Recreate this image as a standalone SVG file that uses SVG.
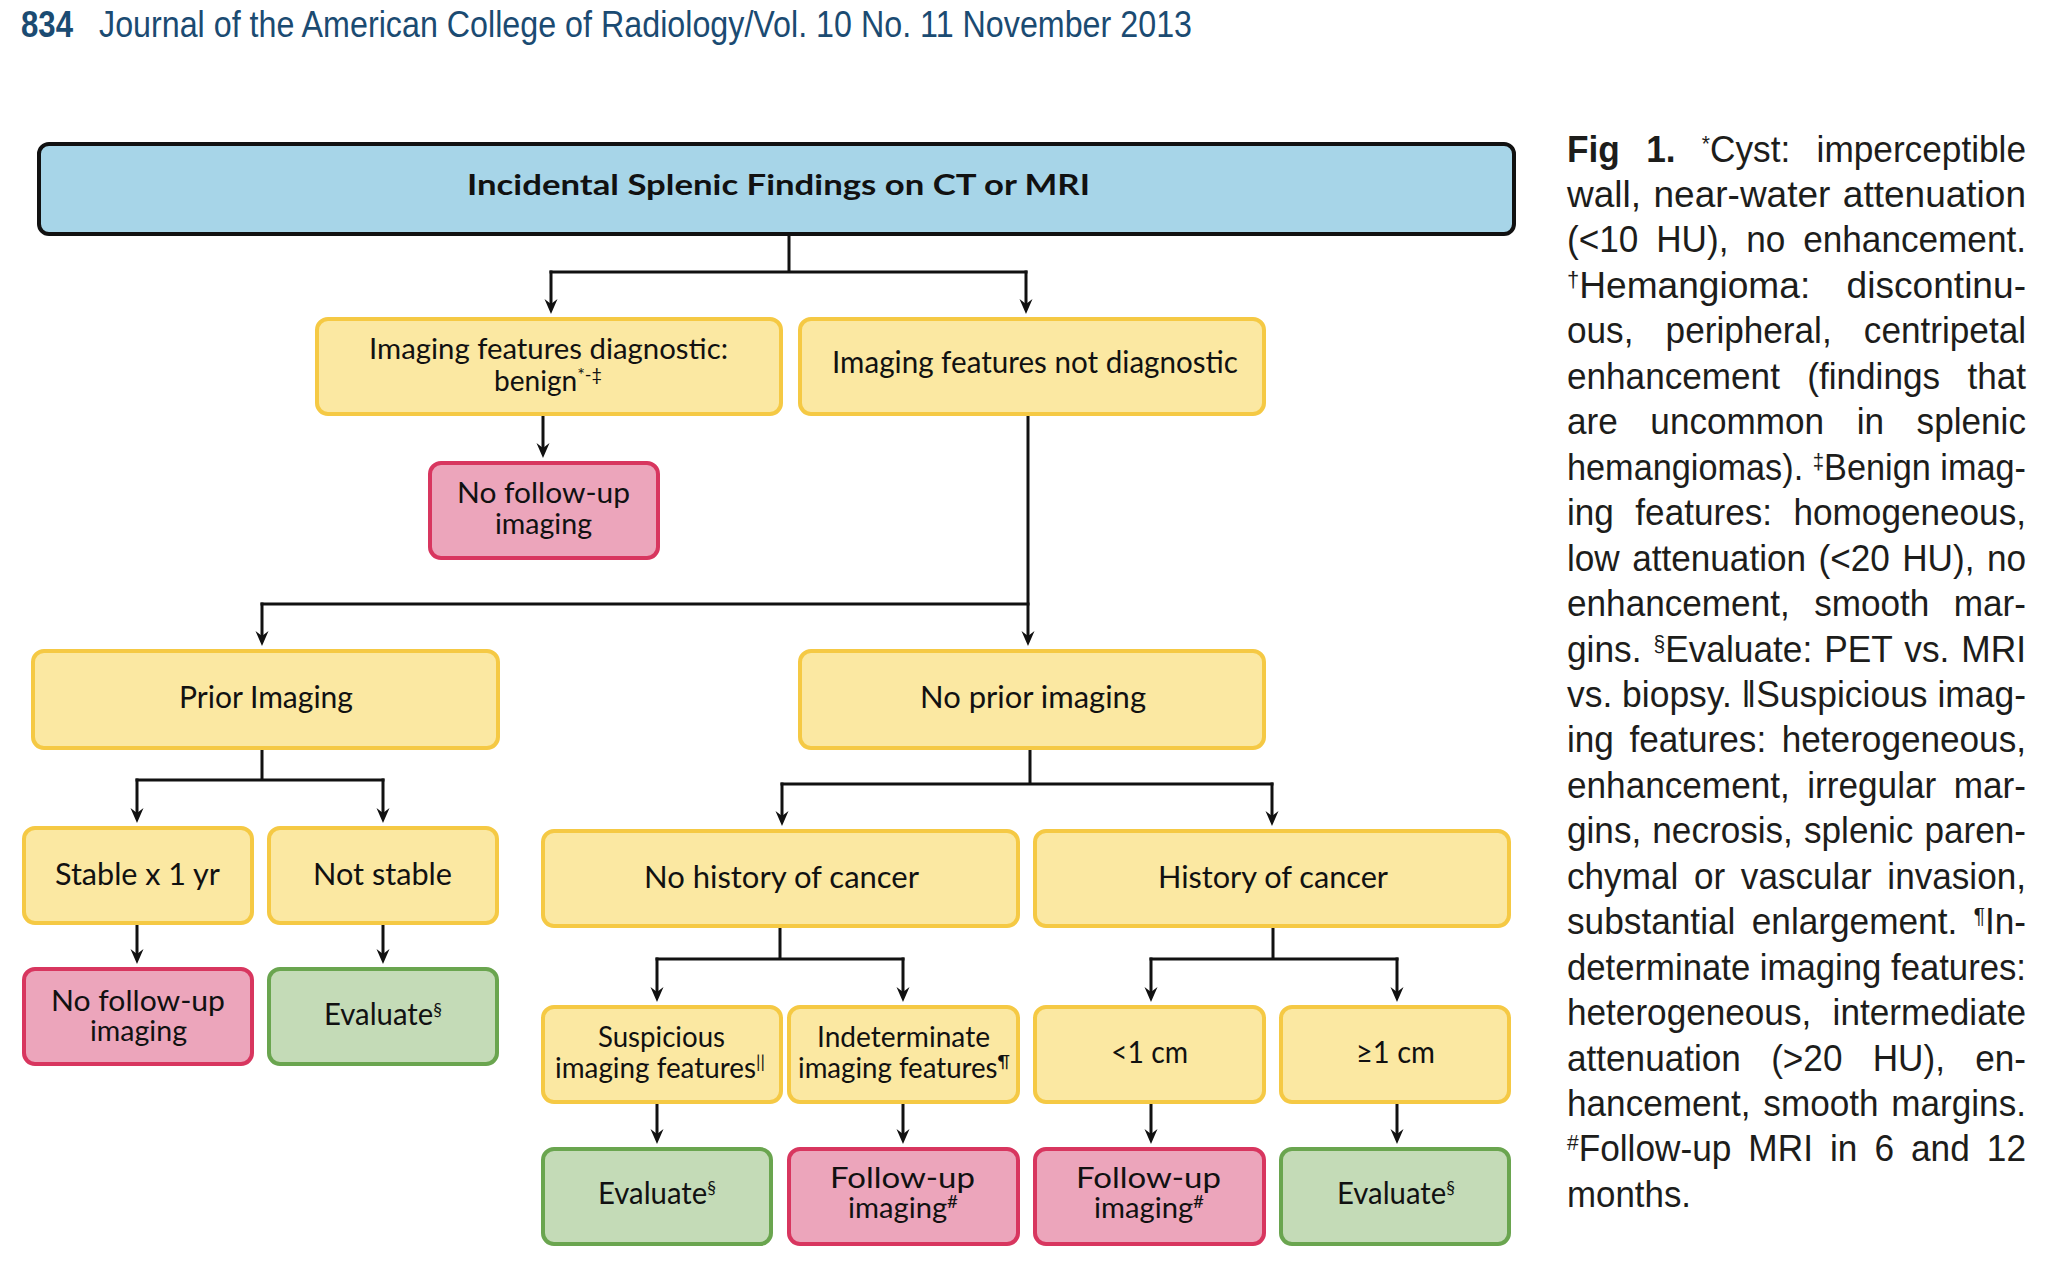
<svg xmlns="http://www.w3.org/2000/svg" width="2060" height="1268" viewBox="0 0 2060 1268">
<defs>
<style>
.by{fill:#fbe8a2;stroke:#f5c944;stroke-width:4}
.bp{fill:#eca5bb;stroke:#d8365f;stroke-width:4}
.bg{fill:#c4dbb7;stroke:#6aa54f;stroke-width:4}
.bb{fill:#a7d5e8;stroke:#111;stroke-width:4}
.lbl{font-family:Lato,"Open Sans",sans-serif;font-size:30px;fill:#111}
.l2{font-size:28px}
.s{font-size:18px}
.ttl{font-family:Lato,"Open Sans",sans-serif;font-size:28px;font-weight:bold;fill:#111}
.cap{font-family:"Liberation Sans",Arial,sans-serif;font-size:37px;fill:#1d1d1b}
.cs{font-size:22px}
.hdr{font-family:"Liberation Sans Narrow","Liberation Sans",Arial,sans-serif;font-size:36px;fill:#1b4b72}
.conn{stroke:#111;stroke-width:3;fill:none;stroke-linecap:square}
.arr{marker-end:url(#arrow)}
</style>
<marker id="arrow" markerUnits="userSpaceOnUse" viewBox="-8 -8 17 16" markerWidth="17" markerHeight="16" refX="0" refY="0" orient="auto">
<path d="M8,0 L-7,-6.5 L-2,0 L-7,6.5 Z" fill="#111"/>
</marker>
</defs>
<rect width="2060" height="1268" fill="#ffffff"/>

<g id="header">
<text class="hdr" x="21" y="37" font-weight="bold" textLength="52" lengthAdjust="spacingAndGlyphs">834</text>
<text class="hdr" x="99" y="37" textLength="1093" lengthAdjust="spacingAndGlyphs">Journal of the American College of Radiology/Vol. 10 No. 11 November 2013</text>
</g>

<g id="connectors">
<path class="conn" d="M789,236 V272 M551,272 H1026"/>
<path class="conn arr" d="M551,272 V306"/>
<path class="conn arr" d="M1026,272 V306"/>
<path class="conn arr" d="M543,416 V450"/>
<path class="conn arr" d="M1028,416 V638"/>
<path class="conn" d="M262,604 H1028"/>
<path class="conn arr" d="M262,604 V638"/>
<path class="conn" d="M262,750 V780 M137,780 H383"/>
<path class="conn arr" d="M137,780 V815"/>
<path class="conn arr" d="M383,780 V815"/>
<path class="conn arr" d="M137,926 V956"/>
<path class="conn arr" d="M383,926 V956"/>
<path class="conn" d="M1030,750 V784 M782,784 H1272"/>
<path class="conn arr" d="M782,784 V818"/>
<path class="conn arr" d="M1272,784 V818"/>
<path class="conn" d="M780,929 V959 M657,959 H903"/>
<path class="conn arr" d="M657,959 V994"/>
<path class="conn arr" d="M903,959 V994"/>
<path class="conn" d="M1273,929 V959 M1151,959 H1397"/>
<path class="conn arr" d="M1151,959 V994"/>
<path class="conn arr" d="M1397,959 V994"/>
<path class="conn arr" d="M657,1105 V1136"/>
<path class="conn arr" d="M903,1105 V1136"/>
<path class="conn arr" d="M1151,1105 V1136"/>
<path class="conn arr" d="M1397,1105 V1136"/>
</g>

<g id="n-title">
<rect class="bb" x="39" y="144" width="1475" height="90" rx="10"/>
<text class="ttl" x="467" y="195" textLength="623" lengthAdjust="spacingAndGlyphs">Incidental Splenic Findings on CT or MRI</text>
</g>
<g id="n-diagnostic">
<rect class="by" x="317" y="319" width="464" height="95" rx="11"/>
<text class="lbl l2"><tspan x="369" y="359" textLength="359" lengthAdjust="spacingAndGlyphs">Imaging features diagnostic:</tspan><tspan x="494" y="391" textLength="108" lengthAdjust="spacingAndGlyphs">benign<tspan class="s" dy="-10">*-‡</tspan></tspan></text>
</g>
<g id="n-notdiagnostic">
<rect class="by" x="800" y="319" width="464" height="95" rx="11"/>
<text class="lbl" x="832" y="373" textLength="406" lengthAdjust="spacingAndGlyphs">Imaging features not diagnostic</text>
</g>
<g id="n-nofollow1">
<rect class="bp" x="430" y="463" width="228" height="95" rx="11"/>
<text class="lbl l2"><tspan x="457" y="503" textLength="173" lengthAdjust="spacingAndGlyphs">No follow-up</tspan><tspan x="495" y="534" textLength="97" lengthAdjust="spacingAndGlyphs">imaging</tspan></text>
</g>
<g id="n-prior">
<rect class="by" x="33" y="651" width="465" height="97" rx="11"/>
<text class="lbl" x="179" y="708" textLength="174" lengthAdjust="spacingAndGlyphs">Prior Imaging</text>
</g>
<g id="n-noprior">
<rect class="by" x="800" y="651" width="464" height="97" rx="11"/>
<text class="lbl" x="920" y="708" textLength="226" lengthAdjust="spacingAndGlyphs">No prior imaging</text>
</g>
<g id="n-stable">
<rect class="by" x="24" y="828" width="228" height="95" rx="11"/>
<text class="lbl" x="55" y="885" textLength="165" lengthAdjust="spacingAndGlyphs">Stable x 1 yr</text>
</g>
<g id="n-notstable">
<rect class="by" x="269" y="828" width="228" height="95" rx="11"/>
<text class="lbl" x="313" y="885" textLength="139" lengthAdjust="spacingAndGlyphs">Not stable</text>
</g>
<g id="n-nofollow2">
<rect class="bp" x="24" y="969" width="228" height="95" rx="11"/>
<text class="lbl l2"><tspan x="51" y="1011" textLength="174" lengthAdjust="spacingAndGlyphs">No follow-up</tspan><tspan x="90" y="1041" textLength="97" lengthAdjust="spacingAndGlyphs">imaging</tspan></text>
</g>
<g id="n-evaluate1">
<rect class="bg" x="269" y="969" width="228" height="95" rx="11"/>
<text class="lbl" x="324" y="1025" textLength="118" lengthAdjust="spacingAndGlyphs">Evaluate<tspan class="s" dy="-9">§</tspan></text>
</g>
<g id="n-nohistory">
<rect class="by" x="543" y="831" width="475" height="95" rx="11"/>
<text class="lbl" x="644" y="888" textLength="275" lengthAdjust="spacingAndGlyphs">No history of cancer</text>
</g>
<g id="n-history">
<rect class="by" x="1035" y="831" width="474" height="95" rx="11"/>
<text class="lbl" x="1158" y="888" textLength="230" lengthAdjust="spacingAndGlyphs">History of cancer</text>
</g>
<g id="n-suspicious">
<rect class="by" x="543" y="1007" width="238" height="95" rx="11"/>
<text class="lbl l2"><tspan x="598" y="1047" textLength="127" lengthAdjust="spacingAndGlyphs">Suspicious</tspan><tspan x="555" y="1078" textLength="210" lengthAdjust="spacingAndGlyphs">imaging features<tspan class="s" dy="-10">||</tspan></tspan></text>
</g>
<g id="n-indeterminate">
<rect class="by" x="789" y="1007" width="229" height="95" rx="11"/>
<text class="lbl l2"><tspan x="817" y="1047" textLength="173" lengthAdjust="spacingAndGlyphs">Indeterminate</tspan><tspan x="798" y="1078" textLength="212" lengthAdjust="spacingAndGlyphs">imaging features<tspan class="s" dy="-10">¶</tspan></tspan></text>
</g>
<g id="n-lt1cm">
<rect class="by" x="1035" y="1007" width="229" height="95" rx="11"/>
<text class="lbl" x="1111" y="1063" textLength="77" lengthAdjust="spacingAndGlyphs">&lt;1 cm</text>
</g>
<g id="n-ge1cm">
<rect class="by" x="1281" y="1007" width="228" height="95" rx="11"/>
<text class="lbl" x="1356" y="1063" textLength="79" lengthAdjust="spacingAndGlyphs">≥1 cm</text>
</g>
<g id="n-evaluate2">
<rect class="bg" x="543" y="1149" width="228" height="95" rx="11"/>
<text class="lbl" x="598" y="1204" textLength="118" lengthAdjust="spacingAndGlyphs">Evaluate<tspan class="s" dy="-10">§</tspan></text>
</g>
<g id="n-followup1">
<rect class="bp" x="789" y="1149" width="229" height="95" rx="11"/>
<text class="lbl l2"><tspan x="830" y="1188" textLength="145" lengthAdjust="spacingAndGlyphs">Follow-up</tspan><tspan x="848" y="1218" textLength="110" lengthAdjust="spacingAndGlyphs">imaging<tspan class="s" dy="-10">#</tspan></tspan></text>
</g>
<g id="n-followup2">
<rect class="bp" x="1035" y="1149" width="229" height="95" rx="11"/>
<text class="lbl l2"><tspan x="1076" y="1188" textLength="145" lengthAdjust="spacingAndGlyphs">Follow-up</tspan><tspan x="1094" y="1218" textLength="110" lengthAdjust="spacingAndGlyphs">imaging<tspan class="s" dy="-10">#</tspan></tspan></text>
</g>
<g id="n-evaluate3">
<rect class="bg" x="1281" y="1149" width="228" height="95" rx="11"/>
<text class="lbl" x="1337" y="1204" textLength="118" lengthAdjust="spacingAndGlyphs">Evaluate<tspan class="s" dy="-10">§</tspan></text>
</g>

<g id="caption">
<text class="cap" x="1567" y="161.5" textLength="459" lengthAdjust="spacingAndGlyphs" word-spacing="17.4"><tspan font-weight="bold">Fig 1.</tspan> <tspan class="cs" dy="-11">*</tspan><tspan dy="11">Cyst: imperceptible</tspan></text>
<text class="cap" x="1567" y="207" textLength="459" lengthAdjust="spacingAndGlyphs" word-spacing="2.2">wall, near-water attenuation</text>
<text class="cap" x="1567" y="252.4" textLength="459" lengthAdjust="spacingAndGlyphs" word-spacing="8.5">(&lt;10 HU), no enhancement.</text>
<text class="cap" x="1567" y="297.9" textLength="459" lengthAdjust="spacingAndGlyphs" word-spacing="26"><tspan class="cs" dy="-11">†</tspan><tspan dy="11">Hemangioma: discontinu-</tspan></text>
<text class="cap" x="1567" y="343.3" textLength="459" lengthAdjust="spacingAndGlyphs" word-spacing="23.6">ous, peripheral, centripetal</text>
<text class="cap" x="1567" y="388.8" textLength="459" lengthAdjust="spacingAndGlyphs" word-spacing="18.5">enhancement (findings that</text>
<text class="cap" x="1567" y="434.2" textLength="459" lengthAdjust="spacingAndGlyphs" word-spacing="24">are uncommon in splenic</text>
<text class="cap" x="1567" y="479.7" textLength="459" lengthAdjust="spacingAndGlyphs">hemangiomas). <tspan class="cs" dy="-11">‡</tspan><tspan dy="11">Benign imag-</tspan></text>
<text class="cap" x="1567" y="525.1" textLength="459" lengthAdjust="spacingAndGlyphs" word-spacing="12.3">ing features: homogeneous,</text>
<text class="cap" x="1567" y="570.6" textLength="459" lengthAdjust="spacingAndGlyphs" word-spacing="2.8">low attenuation (&lt;20 HU), no</text>
<text class="cap" x="1567" y="616" textLength="459" lengthAdjust="spacingAndGlyphs" word-spacing="15.4">enhancement, smooth mar-</text>
<text class="cap" x="1567" y="661.5" textLength="459" lengthAdjust="spacingAndGlyphs" word-spacing="2.3">gins. <tspan class="cs" dy="-11">§</tspan><tspan dy="11">Evaluate: PET vs. MRI</tspan></text>
<text class="cap" x="1567" y="706.9" textLength="459" lengthAdjust="spacingAndGlyphs">vs. biopsy. ‖Suspicious imag-</text>
<text class="cap" x="1567" y="752.4" textLength="459" lengthAdjust="spacingAndGlyphs" word-spacing="6.1">ing features: heterogeneous,</text>
<text class="cap" x="1567" y="797.8" textLength="459" lengthAdjust="spacingAndGlyphs" word-spacing="8.2">enhancement, irregular mar-</text>
<text class="cap" x="1567" y="843.3" textLength="459" lengthAdjust="spacingAndGlyphs" word-spacing="1.4">gins, necrosis, splenic paren-</text>
<text class="cap" x="1567" y="888.7" textLength="459" lengthAdjust="spacingAndGlyphs" word-spacing="6.2">chymal or vascular invasion,</text>
<text class="cap" x="1567" y="934.2" textLength="459" lengthAdjust="spacingAndGlyphs" word-spacing="6.9">substantial enlargement. <tspan class="cs" dy="-11">¶</tspan><tspan dy="11">In-</tspan></text>
<text class="cap" x="1567" y="979.6" textLength="459" lengthAdjust="spacingAndGlyphs">determinate imaging features:</text>
<text class="cap" x="1567" y="1025.1" textLength="459" lengthAdjust="spacingAndGlyphs" word-spacing="12.2">heterogeneous, intermediate</text>
<text class="cap" x="1567" y="1070.5" textLength="459" lengthAdjust="spacingAndGlyphs" word-spacing="21.6">attenuation (&gt;20 HU), en-</text>
<text class="cap" x="1567" y="1116" textLength="459" lengthAdjust="spacingAndGlyphs" word-spacing="3.1">hancement, smooth margins.</text>
<text class="cap" x="1567" y="1161.4" textLength="459" lengthAdjust="spacingAndGlyphs" word-spacing="7.6"><tspan class="cs" dy="-11">#</tspan><tspan dy="11">Follow-up MRI in 6 and 12</tspan></text>
<text class="cap" x="1567" y="1206.9" textLength="124" lengthAdjust="spacingAndGlyphs">months.</text>
</g>
</svg>
